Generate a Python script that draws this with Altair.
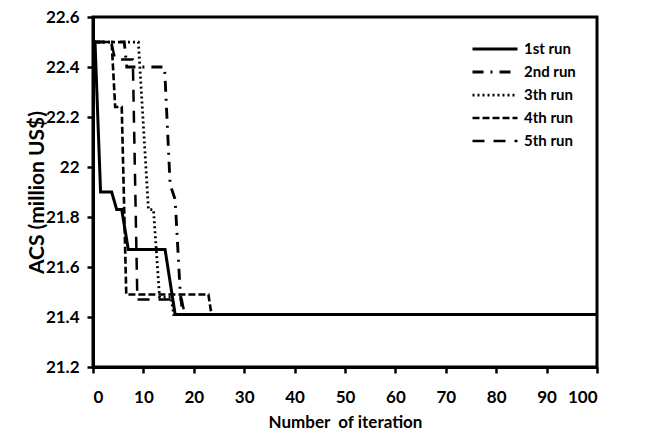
import altair as alt
import pandas as pd

runs = ["1st run", "2nd run", "3th run", "4th run", "5th run"]

run1_x = [0, 0.4, 1.5, 3.7, 4.7, 5.7, 7.0, 14.3, 16.3, 100]
run1_y = [22.5, 22.5, 21.9, 21.9, 21.83, 21.83, 21.67, 21.67, 21.41, 21.41]
run2_x = [0, 6.2, 6.7, 14.2, 15.3, 16.3, 17.3, 17.8, 100]
run2_y = [22.5, 22.5, 22.4, 22.4, 21.93, 21.87, 21.5, 21.41, 21.41]
run3_x = [0, 9.0, 11.0, 12.0, 13.2, 15.5, 16.0, 100]
run3_y = [22.5, 22.5, 21.83, 21.83, 21.48, 21.48, 21.41, 21.41]
run4_x = [0, 3.7, 4.4, 5.7, 6.6, 22.9, 23.5, 100]
run4_y = [22.5, 22.5, 22.24, 22.24, 21.49, 21.49, 21.41, 21.41]
run5_x = [0, 3.6, 4.4, 7.9, 8.8, 17.6, 18.2, 100]
run5_y = [22.5, 22.5, 22.43, 22.43, 21.47, 21.47, 21.41, 21.41]

x_ticks = [0, 10, 20, 30, 40, 50, 60, 70, 80, 90, 100]
y_ticks = [21.2, 21.4, 21.6, 21.8, 22.0, 22.2, 22.4, 22.6]

series = [(run1_x, run1_y), (run2_x, run2_y), (run3_x, run3_y),
          (run4_x, run4_y), (run5_x, run5_y)]
rows = []
for name, (xs, ys) in zip(runs, series):
    for i, (xv, yv) in enumerate(zip(xs, ys)):
        rows.append({"run": name, "iter": xv, "acs": yv, "i": i})
df = pd.DataFrame(rows)

dashes = [[1, 0], [11, 7, 2, 7], [2, 3], [7, 3], [12, 9]]
widths = [3, 2.5, 2, 3, 3]

FONT = "Lato"

chart = alt.Chart(df).mark_line(color="black", strokeCap="butt").encode(
    x=alt.X("iter:Q", scale=alt.Scale(domain=[0, 100], nice=False),
            axis=alt.Axis(values=x_ticks, title="Number\u00a0 of iteration",
                          labelPadding=16, titlePadding=9, format="d",
                          titleFontSize=17)),
    y=alt.Y("acs:Q", scale=alt.Scale(domain=[21.2, 22.6], nice=False, zero=False),
            axis=alt.Axis(values=y_ticks, title="ACS (million US$)",
                          format="~f", labelPadding=8, titlePadding=-2,
                          titleFontSize=21)),
    strokeDash=alt.StrokeDash("run:N", scale=alt.Scale(domain=runs, range=dashes),
                              legend=alt.Legend(title=None, orient="none",
                                                legendX=378, legendY=24,
                                                symbolType="stroke", symbolSize=2025,
                                                symbolStrokeColor="black",
                                                symbolStrokeWidth=2.5,
                                                clipHeight=16, rowPadding=7,
                                                labelOffset=5,
                                                labelFont=FONT, labelFontSize=15,
                                                labelFontWeight="bold",
                                                labelColor="black")),
    strokeWidth=alt.StrokeWidth("run:N", scale=alt.Scale(domain=runs, range=widths),
                                legend=None),
    order="i:Q",
).properties(
    width=504, height=350,
    autosize=alt.AutoSizeParams(type="none"),
    padding={"left": 93, "top": 17, "right": 52, "bottom": 67},
).configure_view(
    stroke="black", strokeWidth=3
).configure_axis(
    grid=False, domainColor="black", domainWidth=3, tickColor="black",
    tickWidth=2.5, tickSize=6, labelFont=FONT, labelFontSize=17,
    labelFontWeight="bold", labelColor="black", titleFont=FONT,
    titleFontWeight="bold", titleColor="black"
)

chart.save("out.html", embed_options={"renderer": "svg", "actions": False})
